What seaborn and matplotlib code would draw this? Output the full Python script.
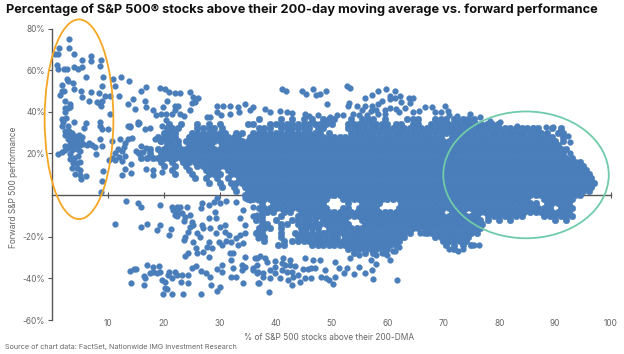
# -*- coding: utf-8 -*-
import pandas as pd
import matplotlib
matplotlib.use("Agg")
import matplotlib.pyplot as plt
from matplotlib.patches import Ellipse
import seaborn as sns

# sparse points as (% above 200-DMA, forward return)
left_points = [(3.0,74.8),(1.25,70.6),(3.0,70.6),(0.5,67.9),(1.0,67.9),(3.9,67.9),(7.0,66.6),(7.0,64.3),(5.4,65),(8.8,65),(8.5,62),
    (0.9,62.3),(1.1,60.6),(2.2,60.6),(2.6,60.6),(3.9,61.5),(4.7,60.6),(5.4,61.5),(6.0,56.6),(9.2,56.6),(10.9,55.9),(12.3,56.6),(13.7,55),
    (11.3,52.5),(9,52.5),(1.7,53),(2.7,55.9),(2.9,54.7),(3.8,54),(3.9,51),(1.7,49.8),(1.4,48.3),(2.1,49.8),(5.2,49.9),(5.3,47),(6.9,49.6),
    (6.6,45.4),(8.4,48.9),(9.5,47.4),(10.4,47.4),(12,47.4),(8.9,45.4),(8.1,44.9),(8.6,43.8),(2.3,45.4),(3.2,43.8),(2.9,41.9),(2.3,42),
    (3.2,42.2),(2.3,39.8),(1.7,36.6),(2,35),(4,35),(6,34.7),(5.8,32.1),(8.6,35.3),(8.6,33),(8.9,31.8),(10,31.5),(10.4,39),(8.8,42.7),
    (1.8,33),(2.5,37),(2.8,33),(2.3,31),(3,31),(3.6,30),(2.4,29),(3,28.5),(3.6,28),(4.2,28.5),(4.8,29),(2.8,27),(3.4,26),(4,26),(4.6,26.5),
    (5.2,26),(5.4,28),(3.2,24.5),(3.8,24),(4.4,24),(5,24),(5.6,24.5),(6.2,24),(6.6,25),(7.2,24),(7.7,23),(8.6,26.7),(9,23.8),(10.7,26.2),
    (1.1,19.8),(1.7,20.5),(2.3,21.8),(2.3,23.8),(3.0,22.5),(3.6,21.5),(4.4,22),(5,21),(7.9,19.5),(10.2,16.9),(3.5,12.9),(3.2,17.5),(3.3,19.5),
    (3.9,18),(4.6,19),(3.7,15.5),(4.4,15.5),(5,16),(4.4,13),(5,12),(4.2,10.2),(5,9.4),(6,9),(5.2,7.5),(9.2,11.8),(9,6.8),(8.8,1.3),
    (10.7,18),(11.3,17),(11.3,20),(11.8,22),(12,18.5),(12.5,16.5),(13,19),(12.6,21),(13,12.7),(12.6,9.8),(14.1,14.7),(14.1,10.5),
    (13.6,33.4),(14,32.5),(12.2,27),(13.6,27),(14.3,27.6),(13,24.8),(12.8,23),(15.4,34.2),(16.6,31.8),(17.6,32.4),(15,21.4),(16,23.8),
    (16.8,22.5),(16.3,20.5),(18.4,27),(19.4,26),(19.6,33.4),(20.4,36),(16.9,12.7),(18.1,9.4),(19.7,11),(18,12)]

upper_points = [(16,50.2),(16.9,52),(16.6,45.4),(14.8,41.5),(13.6,43.8),(14.5,46.2),(19.3,51.5),(20.2,51),(21,49.6),(22,49.2),(22.9,48.8),
    (24.7,49.6),(25.3,47),(26.1,46.7),(25,44),(20.5,45.4),(19.9,42.2),(22,43),(22.6,43),(18.1,40.8),(16.9,42.2),(15.4,35),(15.6,34.8),(14,33.4),
    (18.6,38.5),(19.5,38.7),(20.4,39),(21.5,39),(22.9,39),(22,41),(23.7,38),(25.6,44.6),(24.6,41),(27.7,37.6),(28.3,37.6),(29.5,43),(30.6,43),(31.8,43),
    (29.5,40),(30.2,38.5),(31.8,39),(33.3,42.2),(34.5,43.5),(33.4,40),(35.4,41),(36,42.5),(38.1,41.4),(39,40),(41.1,51),(41.9,50.2),(44.8,49.8),(46.7,51),
    (45.5,48.6),(47.2,48.3),(48,48.6),(49,50.2),(49.2,43.8),(52.7,52.3),(53.3,51.3),(53.2,44),(52.9,43),(54.5,43),(56,46.7),(57.3,48),(58.4,49.8),(59.7,51),
    (61.4,50.2),(60.5,47.8),(60.5,46),(61.3,46.6),(62.3,47.8),(63.9,46.5),(64.6,46.5),(64,44),(59,45.4),(58.4,43.5),(57.2,43),(56,42.7),(62.4,44.6),(63.1,41.6),
    (66.7,42.2),(67.9,42.2),(70.3,42.7),(70.9,40.6),(72.4,38.2),(55.5,41),(57,40.5),(58,41),(59.5,41),(60.5,42),(61.5,41.5),(62,40),(64.5,40),(65.7,40.5),
    (40.8,40.6),(42,40),(43,39.5),(45.3,39),(46,38),(47.5,38.5),(49.7,37.4),(51,38.5),(52,38.5),(53.9,39),(55,38.5),(56.3,38.5),(58.3,38.7),(59.5,38.7),
    (68.5,40),(69.5,40),(71,38.5),(74.8,39),(76.6,37.4),(78.4,35.8),(80.1,35),(83.1,33.4),(86,32),(88.3,32.9),(89.7,32.6),(90.9,31),(92.3,28.6),(92.7,25.5),(92.7,20)]

# the two patches under the zero line
mid_low_points = [(13.2,-3),(15.4,-3.6),(15.9,-5.9),(11.3,-13.9),(16,-15.5),(17,-13.9),(19.3,-14.5),(18.8,-16.7),(19.4,-4.9),(21.3,-16.1),(20.9,-19),
    (21.4,-5.6),(21.7,-7.2),(22.3,-5.6),(22.9,-5.6),(22.6,-8),(23.2,-8.8),(22.3,-10.1),(23.8,-10.4),(24.1,-5.9),(24.7,-9.6),(23.6,-12.3),(22,-9.6),
    (26.8,-4),(26.6,-6.4),(28,-4.8),(28.9,-3.2),(29.5,-1.6),(30.1,-4),(31.2,-2.7),(29.2,-8),(29.3,-11.2),(28,-11.2),(32.9,-3.4),(34.5,-1.6),(34.2,-7.2),(33.6,-11.2),
    (34.5,-14.4),(36,-5.6),(35.4,-2.4),(36.6,-9.6),(35.9,-10),(36.9,-2.4),(25,-12.8),(24.7,-15.2),(23.8,-20),(23.6,-21.6),(24.4,-17.6),(25.3,-14.5),(26.8,-14.4),
    (26.5,-20),(25.9,-18.4),(28.3,-16),(27.1,-16),(25.2,-22.7),(28,-22.4),(27.7,-24.8),(28.7,-25.6),(25.8,-25.6),(26,-28),(27.1,-27.2),(28,-29.6),(23.8,-29.1),(24.4,-27.7),
    (29.3,-18.4),(30,-15.2),(31,-14.4),(29.8,-22.4),(30.4,-24),(31,-17.6),(31.6,-19.2),(31.2,-22),(32.1,-22.4),(33,-20.8),(33.3,-24),(34.2,-23.2),(34.5,-18.4),(33.6,-19),
    (36.6,-17.6),(36.9,-20.8),(31.8,-28),(32.4,-28),(32.1,-31.2),(34.5,-29.6),(33.9,-33.6),(36.6,-30.4)]

bottom_points = [(14,-36.5),(14.6,-35.4),(15.1,-35.4),(16.4,-38.9),(16.6,-40),(17,-33.6),(17.5,-37.6),(18.1,-34.4),(18.1,-36.8),(18.7,-37.6),(19.2,-34.1),(19.3,-36.8),
    (19.6,-40.8),(20.2,-41.6),(20.2,-44.8),(20.8,-38.4),(21,-36.8),(21.4,-40),(22,-36.8),(22.3,-38.4),(23.2,-38.4),(23,-41.6),(24.4,-38.4),(25,-35.2),(25.8,-34.1),(24.3,-42.4),
    (26.6,-36.5),(27.6,-37.3),(28.3,-39.2),(28.4,-43.2),(29.5,-35.7),(30.4,-33.6),(30.4,-36.8),(30.1,-44.3),(29.5,-45.9),(32.3,-35.2),(32.1,-39.2),(33,-39.2),(33.9,-36),(34.5,-34.4),
    (34.2,-42.4),(36,-35.2),(36.9,-42.4),(36.6,-37.6),(14.1,-42.4),(16.5,-43.2),(19.8,-47.5),(20.6,-45.3),(21.4,-47.5),(23.5,-47.5),(26.6,-47.5),
    (36.3,-30.4),(37.2,-29.3),(38.1,-30),(36.6,-33.6),(38.4,-32),(39.9,-31.5),(41.4,-30.4),(42.6,-31.2),(45.2,-30.4),(46.7,-31.2),(48,-31.2),(50.7,-32),(51.4,-35.2),(52.7,-35.2),
    (52.3,-37.6),(54,-38),(55,-34.7),(56,-37.6),(57.3,-36),(57.5,-40.3),(61.8,-40.8),(50.3,-42.9),(48.8,-36),(49.1,-40),(48.2,-39.5),(50.7,-39.5),(49.6,-40.8),(46.3,-40),(45.2,-40),
    (46.4,-35.2),(45.8,-35.5),(44.9,-35.7),(47,-35.2),(44.3,-41.6),(43,-43.2),(37.1,-42.4),(38.8,-46.6),(39,-40),(37.8,-39.5),(36,-36),(36.9,-36.8),(37.8,-37.6),(39,-36),(39.9,-34.4),
    (39.9,-37.6),(41.1,-36),(40.8,-40),(42,-36.8),(42.3,-40.8),(42.9,-36.8),(43.2,-39.2),(44,-38.4),(41.7,-33.6),(42.6,-33.6),(43.5,-34),(41.1,-32.8),
    (53.3,-30),(55,-29),(57,-31),(58,-29),(59,-28),(60,-29),(61,-27),(58,-33),(60.5,-31),(61.4,-26.7),(62,-25),(65.9,-18),(66.6,-18),(71,-26),(72.6,-27),(73.5,-26),(76.4,-24),(75.5,-24)]

# dense body: forward return band -> x positions in that band
body_rows = {
 36.3: [37,41,43,45,46.5,48.5,49.5,50.5,53.5,55.5,56.5,57.5,59.5,63.5,64.5,65.5,68.5,69.5,70.5,72,72.5,73.5,74.5,75.5],
 34.2: [21,23,26,28,30,35,36,39,40,41,42,43,44,45,46,47,48,49,50,53,54,55,56,57,58,59,60,61.5,62.5,64.5,65.5,67.8,68.8,69.8,70.8,71.8,72.8,73.8,74.8,75.8,76.8,77.8,78.8,79.8],
 32.1: [20.5,21.5,22.5,26,27,28,29,30.5,37,38,39,41,42,43,44,45,46,47.5,48.5,53,54,55,56,57,58,59,60,61,62,63,64,65,66,67,68,69,70,71,72,73,74,75,76,77,78,79,80,81,82,83,84,85,86,87,89.5,91],
 30: [20,21,22,25,26,27,28,29,30,31,33,34,36,37,38,39,40,41,42,43,44,45,46,47,48,49.5,53.5,54.5,55.5,56.5,57.5,58.5,59.5,60.5,61.5,62.5,63.5,64.5,65.5,66.5,67.5,68.5,69.5,70.5,71.5,72.5,73.5,74.5,75.5,76.5,77.5,78.5,79.5,80.5,81.5,82.5,83.5,84.5,85.5,86.5,87.5,88.5,90.5,91.5],
 28: [19,20,21,22,24.5,25.5,26.5,27.5,28.5,29.5,30.5,31.5,32.5,33.2,35.5,36.5,37.5,38.5,39.5,40.5,41.5,42.5,43.5,44.5,45.5,46.5,47.5,48.5,49.5,50.5,51.5,52.5,53.5,54.5,55.5,56.5,57.5,58.5,59.5,60.5,61.5,62.5,63.5,64.5,65.5,66.5,67.5,68.5,69.5,71.5,72.5,73.5,74.5,75.5,76.5,77.5,78.5,79.5,80.5,81.5,82.5,83.5,84.5,85.5,86.5,87.5,88.5,89.5,91.5],
 26: [19.5,20.5,21.5,22.5,24,25,26,27,28,29,30,31,32,33,34,35,36,37,38,39,40,41,42,43,44,45,46,47,48,49,50,51,52,53,54,55,56,57,58,59,60,61,62,63,64,65,66,67,68,69,70,71,72,73,74,75,76,77,78,79,80,81,82,83,84,85,86,87,88,89,90,91.5],
 24: [20.5,21.5,22.5,24.5,25.5,26.5,27.5,28.5,30.5,31.5,32.5,33.5,34.5,35.5,36.5,37.5,38.5,39.5,40.5,41.5,42.5,43.5,44.5,45.5,46.5,47.5,48.5,49.5,50.5,51.5,52.5,53.5,54.5,55.5,56.5,57.5,58.5,59.5,60.5,61.5,62.5,63.5,64.5,65.5,66.5,67.5,68.5,69.5,70.5,71.5,72.5,73.5,74.5,75.5,76.5,77.5,78.5,79.5,80.5,81.5,82.5,83.5,84.5,85.5,86.5,87.5,88.5,89.5,90.5],
 22: [17.5,19,20,21,22,23,24,25,26,27,28,29,30,31,32,33,34,35,36,37,38,39,40,41,42,43,44,45,46,47,48,49,50,51,52,53,54,55,56,57,58,59,60,61,62,63,64,65,66,67,68,69,70,71,72,73,74,75,76,77,78,79,80,81,82,83,84,85,86,87,88,89,90,91,92],
 20: [15.5,17.5,19.5,20.5,21.5,22.5,23.5,24.5,25.5,26.5,27.5,28.5,29.5,30.5,31.5,32.5,33.5,34.5,35.5,36.5,37.5,38.5,39.5,40.5,41.5,42.5,43.5,44.5,45.5,46.5,47.5,48.5,49.5,50.5,51.5,52.5,53.5,54.5,55.5,56.5,57.5,58.5,59.5,60.5,61.5,62.5,63.5,64.5,65.5,66.5,67.5,68.5,69.5,70.5,71.5,72.5,73.5,74.5,75.5,76.5,77.5,78.5,79.5,80.5,81.5,82.5,83.5,84.5,85.5,86.5,87.5,88.5,89.5,90.5,91.5],
 18: [16,17,18,19,20,21,22,23,24,25,26,27,28,29,30,31,32,33,34,35,36,37,38,39,40,41,42,43,44,45,46,47,48,49,50,51,52,53,54,55,56,57,58,59,60,61,62,63,64,65,66,67,68,69,70,71,72,73,74,75,76,77,78,79,80,81,82,83,84,85,86,87,88,89,90,91,92,93],
 16: [19.5,21.5,23.5,24.5,25.5,26.5,27.5,28.5,29.5,30.5,31.5,32.5,33.5,34.5,35.5,36.5,37.5,38.5,39.5,40.5,41.5,42.5,43.5,44.5,45.5,46.5,47.5,48.5,49.5,50.5,51.5,52.5,53.5,54.5,55.5,56.5,57.5,58.5,59.5,60.5,61.5,62.5,63.5,64.5,65.5,66.5,67.5,68.5,69.5,70.5,71.5,72.5,73.5,74.5,75.5,76.5,77.5,78.5,79.5,80.5,81.5,82.5,83.5,84.5,85.5,86.5,87.5,88.5,89.5,90.5,91.5,92.5,93.5,94.5],
 14: [20,22,24,26,27,28,29,30,31,32,33,34,35,36,37,38,39,40,41,42,43,44,45,46,47,48,49,50,51,52,53,54,55,56,57,58,59,60,61,62,63,64,65,66,67,68,69,70,71,72,73,74,75,76,77,78,79,80,81,82,83,84,85,86,87,88,89,90,91,92,93,94,95],
 12: [21.5,24.5,27.5,28.5,29.5,31.5,32.5,33.5,34.5,35.5,36.5,37.5,38.5,39.5,40.5,41.5,42.5,43.5,44.5,45.5,46.5,47.5,48.5,49.5,50.5,51.5,52.5,53.5,54.5,55.5,56.5,57.5,58.5,59.5,60.5,61.5,62.5,63.5,64.5,65.5,66.5,67.5,68.5,69.5,70.5,71.5,72.5,73.5,74.5,75.5,76.5,77.5,78.5,79.5,80.5,81.5,82.5,83.5,84.5,85.5,86.5,87.5,88.5,89.5,90.5,91.5,92.5,93.5,94.5,95.5],
 10: [22,25,28,29,30,32,33,34,35,36,37,38,39,40,41,42,43,44,45,46,47,48,49,50,51,52,53,54,55,56,57,58,59,60,61,62,63,64,65,66,67,68,69,70,71,72,73,74,75,76,77,78,79,80,81,82,83,84,85,86,87,88,89,90,91,92,93,94,95,96],
 8: [25.5,27.5,29.5,31.5,33.5,34.5,35.5,36.5,37.5,38.5,39.5,40.5,41.5,42.5,43.5,44.5,45.5,46.5,47.5,48.5,49.5,50.5,51.5,52.5,53.5,54.5,55.5,56.5,57.5,58.5,59.5,60.5,61.5,62.5,63.5,64.5,65.5,66.5,67.5,68.5,69.5,70.5,71.5,72.5,73.5,74.5,75.5,76.5,77.5,78.5,79.5,80.5,81.5,82.5,83.5,84.5,85.5,86.5,87.5,88.5,89.5,90.5,91.5,92.5,93.5,94.5,95.5,96.5],
 6: [28,30,32,33,34,35,36,37,38,39,40,41,42,43,44,45,46,47,48,49,50,51,52,53,54,55,56,57,58,59,60,61,62,63,64,65,66,67,68,69,70,71,72,73,74,75,76,77,78,79,80,81,82,83,84,85,86,87,88,89,90,91,92,93,94,95,96,97],
 4: [30.5,32.5,34.5,35.5,36.5,37.5,38.5,39.5,40.5,41.5,42.5,43.5,44.5,45.5,46.5,47.5,48.5,49.5,50.5,51.5,52.5,53.5,54.5,55.5,56.5,57.5,58.5,59.5,60.5,61.5,62.5,63.5,64.5,65.5,66.5,67.5,68.5,69.5,70.5,71.5,72.5,73.5,74.5,75.5,76.5,77.5,78.5,79.5,80.5,81.5,82.5,83.5,84.5,85.5,86.5,87.5,88.5,89.5,90.5,91.5,92.5,93.5,94.5,95.5,96.5],
 2: [33,35,36,37,38,39,40,41,42,43,44,45,46,47,48,49,50,51,52,53,54,55,56,57,58,59,60,61,62,63,64,65,66,67,68,69,70,71,72,73,74,75,76,77,78,79,80,81,82,83,84,85,86,87,88,89,90,91,92,93,94,95,96],
 0: [34.5,35.5,36.5,37.5,38.5,39.5,40.5,41.5,42.5,43.5,44.5,45.5,46.5,47.5,48.5,49.5,50.5,51.5,52.5,53.5,54.5,55.5,56.5,57.5,58.5,59.5,60.5,61.5,62.5,63.5,64.5,65.5,66.5,67.5,68.5,69.5,70.5,71.5,72.5,73.5,74.5,75.5,76.5,77.5,78.5,79.5,80.5,81.5,82.5,83.5,84.5,85.5,86.5,87.5,88.5,89.5,90.5,91.5,92.5,93.5,94.5],
 -2: [35,36,37,38,39,40,41,42,43,44,45,46,47,48,49,52,53,54,55,56,57,58,59,60,61,62,63,64,65,66,67,68,69,70,71,72,73,74,75,76,77,78,79,80,81,82,83,84,85,88,89,90,91,92,93],
 -4: [37.5,39.5,40.5,41.5,42.5,43.5,44.5,45.5,46.5,47.5,48.5,53,55.5,56.5,57.5,58.5,62.5,63.5,64.5,65.5,66.5,67.5,68.5,69.5,70.5,71.5,72.5,73.5,74.5,75.5,76.5,77.5,78.5,79.5,80.5,81.5,82.5,83.5,84.5,85.5,86.5,88.5,89.5,90.5,91.5,92.5],
 -6: [37,38,39,40,41,42,43,44,45,46,47,48,49,52,53,55,56,57,58,62,63,64,65,66,67,68,69,70,71,72,73,74,75,76,77,78,79,80,81,82,83,84,85,86,87,88,89,91,92,93],
 -8: [37.5,38.5,39.5,41.5,42.5,44.5,45.5,46.5,47.5,48.5,49.5,50.5,51.5,52.5,53.5,54.5,55.5,56.5,57.5,58.5,59.5,60.5,61.5,62.5,63.5,64.5,65.5,66.5,67.5,68.5,69.5,71.5,72.5,73.5,75.5,76.5,77.5,78.5,79.5,80.5,81.5,82.5,83.5,84.5,85.5,86.5,87.5,88.5,89.5,90.5,91.5,92.5],
 -10: [36.5,37.5,41,44,45,46,47,48,49,50,51,52,53,54,55,56,57,58,59,60,61,62,63,64,65,66,67,68,69,70,71,72,73,74,75,76,78,79,80,81,82,83,84,88,89,90,91,92,93],
 -12: [36.5,37.5,40,43,44,45,46,47,48.5,49.5,50.5,51.5,52.5,55.5,56.5,57.5,58.5,59.5,60.5,61.5,62.5,63.5,64.5,65.5,66.5,67.5,68.5,69.5,70.5,71.5,72.5,73.5,74.5,75.5,76.5,78,80,82,90,92],
 -14: [37.5,38.5,41,42,44,45,46,47,48,49,50,51,52,53,56,57,58,59,60,61,62,63,64,65,66,67,68,69,70,71,72,73,74,75,76,77],
 -16: [37,38,39,41,44.5,45.5,46.5,47.5,49.5,50.5,51.5,52.5,53.5,54.5,55.5,56.5,57.5,58.5,59.5,60.5,61.5,62.5,63.5,64.5,65.5,66.5,67.5,68.5,69.5,70.5,71.5,72.5,73.5,74.5,75.5,76.5],
 -18: [36.5,37.5,41,43.5,44.5,45.5,46.5,47.5,48.5,49,50,51,52,53,54,55,56,57,58,59,60,61,62,63,64,67,68,69,70,71,72,73,74,75,76],
 -20: [37,38,41,44,45,46,47,48,49,50,51,52.5,53.5,54.5,55.5,56.5,57.5,58.5,59.5,60.5,61.5,62.5,63,68.5,69.5,70.5,71.5,72.5,73.5,74.5],
 -22: [38,41.5,43,44,45,46,47,48,49,50,51,52,53,54,55,56,57,58,59,60,61,62,70,71,72,73,74],
 -24: [40.5,41.5,46.5,47.5,48.5,49.5,50.5,51.5,52.5,53.5,54.5,55.5,56.5,57.5,58.5,59.5,60.5,61.5,70.5,72,73.5,75],
 -26: [53,54,55,56,57,58,59,60,72],
 -28: [54,56,57.5,59.5],
}

y_ticks = [-60, -40, -20, 20, 40, 60, 80]
x_ticks = [10, 20, 30, 40, 50, 60, 70, 80, 90, 100]
dot_color = "#4A7EBB"

sns.set_theme(style="white")
plt.rcParams['font.family'] = ['Inter', 'DejaVu Sans']

sparse = pd.DataFrame(left_points + upper_points + mid_low_points + bottom_points, columns=["above_dma", "forward"])
body = pd.DataFrame([(x, level) for level, xs in body_rows.items() for x in xs], columns=["above_dma", "forward"])

fig = plt.figure(figsize=(6.24, 3.54), dpi=100)
ax = fig.add_axes([52/624, 34/354, 559/624, 291.5/354])
sns.scatterplot(data=body, x="above_dma", y="forward", color=dot_color, s=22, linewidth=0.4, edgecolor=dot_color, alpha=1, ax=ax, zorder=3, clip_on=False)
sns.scatterplot(data=sparse, x="above_dma", y="forward", color=dot_color, s=18, linewidth=0.2, edgecolor=dot_color, alpha=1, ax=ax, zorder=3, clip_on=False)
ax.set_xlim(0, 100)
ax.set_ylim(-60, 80)
ax.set_xlabel("")
ax.set_ylabel("")

for s in ["top", "right"]:
    ax.spines[s].set_visible(False)
ax.spines["bottom"].set_position(("data", 0))
ax.spines["bottom"].set_color("#555555")
ax.spines["left"].set_color("#555555")
ax.spines["bottom"].set_linewidth(1.0)
ax.spines["left"].set_linewidth(1.0)

ax.set_yticks(y_ticks)
ax.set_yticklabels([f"{v}%" for v in y_ticks])
ax.set_xticks(x_ticks)
ax.set_xticklabels([str(v) for v in x_ticks])
ax.tick_params(axis="y", left=True, length=3, width=0.8, color="#555555", labelsize=6, labelcolor="#666666", pad=2)
ax.tick_params(axis="x", bottom=True, direction="inout", length=5, width=0.8, color="#555555", labelsize=6, labelcolor="#666666", pad=87)

ax.add_patch(Ellipse((4.83, 36.4), 12.3, 95.9, fill=False, edgecolor="#F5A623", linewidth=1.3, zorder=4, clip_on=False))
ax.add_patch(Ellipse((84.8, 9.7), 29.6, 60.9, fill=False, edgecolor="#6FCBA8", linewidth=1.3, zorder=4, clip_on=False))

fig.text(6/624, 1-10/354, "Percentage of S&P 500\u00ae stocks above their 200-day moving average vs. forward performance",
         fontsize=9.24, fontweight="bold", color="#111111", va="center", ha="left")
fig.text(14/624, 1-187/354, "Forward S&P 500 performance", rotation=90, fontsize=6, color="#666666", va="center", ha="center")
fig.text(329/624, 1-337/354, "% of S&P 500 stocks above their 200-DMA", fontsize=6, color="#666666", va="center", ha="center")
fig.text(5/624, 1-347/354, "Source of chart data: FactSet, Nationwide IMG Investment Research", fontsize=5.2, color="#666666", va="center", ha="left")

fig.savefig("out.png", dpi=100)
